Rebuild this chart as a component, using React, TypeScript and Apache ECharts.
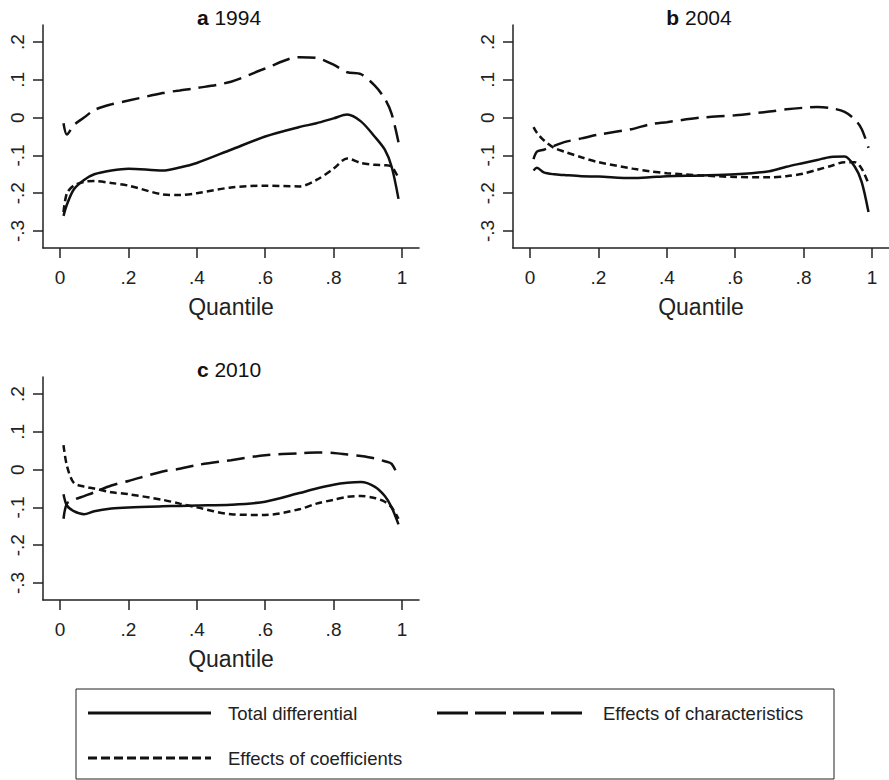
import { useRef, useEffect } from 'react';
import * as echarts from 'echarts';

const quantiles = [0.01, 0.02, 0.04, 0.07, 0.1, 0.15, 0.2, 0.3, 0.35, 0.4, 0.5, 0.6, 0.7, 0.75, 0.8, 0.84, 0.88, 0.92, 0.95, 0.97, 0.99];

// panel a 1994
const totalA = [-0.26, -0.23, -0.19, -0.165, -0.15, -0.14, -0.135, -0.14, -0.132, -0.12, -0.085, -0.05, -0.025, -0.015, -0.002, 0.008, -0.01, -0.05, -0.085, -0.13, -0.215];
const charsA = [-0.015, -0.045, -0.02, 0.0, 0.02, 0.035, 0.045, 0.065, 0.072, 0.078, 0.095, 0.13, 0.16, 0.158, 0.14, 0.12, 0.115, 0.085, 0.05, 0.01, -0.065];
const coefsA = [-0.25, -0.2, -0.18, -0.17, -0.168, -0.173, -0.18, -0.203, -0.205, -0.2, -0.185, -0.18, -0.182, -0.165, -0.135, -0.108, -0.12, -0.125, -0.126, -0.13, -0.16];

// panel b 2004
const totalB = [-0.14, -0.133, -0.145, -0.15, -0.152, -0.155, -0.156, -0.16, -0.158, -0.155, -0.153, -0.15, -0.142, -0.13, -0.12, -0.112, -0.104, -0.103, -0.13, -0.17, -0.25];
const charsB = [-0.11, -0.09, -0.085, -0.075, -0.065, -0.055, -0.045, -0.03, -0.018, -0.012, 0.0, 0.006, 0.016, 0.022, 0.026, 0.028, 0.025, 0.015, -0.005, -0.03, -0.08];
const coefsB = [-0.025, -0.04, -0.06, -0.08, -0.09, -0.105, -0.118, -0.135, -0.142, -0.147, -0.153, -0.157, -0.158, -0.155, -0.148, -0.138, -0.128, -0.118, -0.118, -0.135, -0.175];

// panel c 2010
const totalC = [-0.065, -0.095, -0.11, -0.118, -0.11, -0.103, -0.1, -0.097, -0.096, -0.095, -0.093, -0.085, -0.062, -0.05, -0.04, -0.035, -0.033, -0.045, -0.07, -0.1, -0.145];
const charsC = [-0.13, -0.09, -0.08, -0.07, -0.06, -0.042, -0.03, -0.005, 0.002, 0.012, 0.025, 0.038, 0.043, 0.045, 0.044, 0.04, 0.036, 0.03, 0.022, 0.015, -0.02];
const coefsC = [0.065, 0.01, -0.035, -0.045, -0.05, -0.06, -0.065, -0.08, -0.09, -0.1, -0.118, -0.12, -0.105, -0.09, -0.08, -0.072, -0.07, -0.075, -0.085, -0.1, -0.13];

const yTicks = [-0.3, -0.2, -0.1, 0, 0.1, 0.2];
const xTicks = [0, 0.2, 0.4, 0.6, 0.8, 1];
const legendNames = ['Total differential', 'Effects of characteristics', 'Effects of coefficients'];

const FONT = '"Liberation Sans", Arial, sans-serif';
const fmt = (v: number) => {
  if (Math.abs(v) < 1e-9) return '0';
  if (Math.abs(v - 1) < 1e-9) return '1';
  return (v < 0 ? '-' : '') + String(Math.abs(Math.round(v * 10) / 10)).replace(/^0/, '');
};

const panels = [
  { title: 'a', year: '1994', left: 43, top: 25, data: [totalA, charsA, coefsA] },
  { title: 'b', year: '2004', left: 513, top: 25, data: [totalB, charsB, coefsB] },
  { title: 'c', year: '2010', left: 43, top: 377, data: [totalC, charsC, coefsC] },
];

const lineStyles = [
  { type: 'solid' as const },
  { type: [18, 8] },
  { type: [7, 4] },
];

export default function App() {
  const chartRef = useRef<HTMLDivElement>(null);

  useEffect(() => {
    if (!chartRef.current) return;
    const chart = echarts.init(chartRef.current, undefined, { renderer: 'svg' });

    const axisLine = { onZero: false, lineStyle: { color: '#222', width: 1.5 } };
    const tick = { length: 10, lineStyle: { color: '#222', width: 1.5 } };
    const grid = panels.map((p) => ({ left: p.left, top: p.top, width: 376, height: 223 }));
    const xAxis = panels.map((_, i) => ({
      type: 'value', gridIndex: i, min: -0.05, max: 1.05,
      axisLine, splitLine: { show: false },
      axisTick: { customValues: xTicks, ...tick },
      axisLabel: { customValues: xTicks, formatter: fmt, fontSize: 19, color: '#222', fontFamily: FONT, margin: 20 },
      name: 'Quantile', nameLocation: 'middle', nameGap: 47,
      nameTextStyle: { fontSize: 23, color: '#222', fontFamily: FONT },
    }));
    const yAxis = panels.map((_, i) => ({
      type: 'value', gridIndex: i, min: -0.345, max: 0.245,
      axisLine, splitLine: { show: false },
      axisTick: { customValues: yTicks, ...tick },
      axisLabel: { customValues: yTicks, formatter: fmt, fontSize: 19, color: '#222', fontFamily: FONT, rotate: 90, margin: 16 },
    }));
    const series: any[] = [];
    panels.forEach((p, i) => {
      p.data.forEach((vals, k) => {
        series.push({
          type: 'line', name: legendNames[k], xAxisIndex: i, yAxisIndex: i,
          smooth: 0.3, showSymbol: false,
          lineStyle: { color: '#111', width: 2.5, ...lineStyles[k] },
          data: quantiles.map((q, j) => [q, vals[j]]),
        });
      });
    });

    const titles = panels.map((p) => ({
      type: 'text', x: p.left + 376 / 2 - 2, y: p.top + 3,
      style: {
        text: `{b|${p.title}} ${p.year}`, align: 'center', verticalAlign: 'bottom',
        font: `21px ${FONT}`, fill: '#111',
        rich: { b: { fontWeight: 'bold', fontSize: 21, fontFamily: FONT } },
      },
    }));

    const txt = { font: `18.5px ${FONT}`, fill: '#222', verticalAlign: 'middle' };
    const legendEls: any[] = [
      { type: 'rect', shape: { x: 76, y: 689, width: 758, height: 90 }, style: { fill: '#fff', stroke: '#222', lineWidth: 1 } },
      { type: 'line', shape: { x1: 88, y1: 713, x2: 211, y2: 713 }, style: { stroke: '#111', lineWidth: 3 } },
      { type: 'text', x: 228, y: 713, style: { text: legendNames[0], ...txt } },
      { type: 'line', shape: { x1: 437, y1: 713, x2: 584, y2: 713 }, style: { stroke: '#111', lineWidth: 3, lineDash: [31, 7] } },
      { type: 'text', x: 603, y: 713, style: { text: legendNames[1], ...txt } },
      { type: 'line', shape: { x1: 88, y1: 758, x2: 211, y2: 758 }, style: { stroke: '#111', lineWidth: 3, lineDash: [9, 4] } },
      { type: 'text', x: 228, y: 758, style: { text: legendNames[2], ...txt } },
    ];

    chart.setOption({
      animation: false,
      backgroundColor: '#fff',
      grid, xAxis, yAxis, series,
      graphic: [...titles, ...legendEls],
    });

    return () => chart.dispose();
  }, []);

  return <div ref={chartRef} style={{ position: 'fixed', left: 0, top: 0, width: 889, height: 780 }} />;
}
